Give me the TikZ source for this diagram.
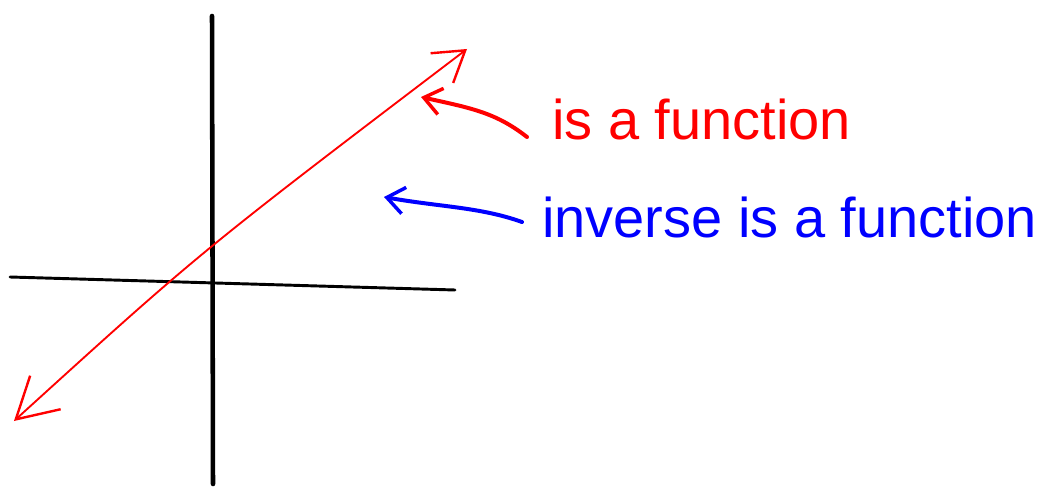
\documentclass[tikz,border=0pt]{standalone}
\usepackage{fontspec}
\setmainfont{Liberation Sans}
\usetikzlibrary{arrows.meta}
\definecolor{cRed}{RGB}{255,0,0}
\definecolor{cBlue}{RGB}{0,0,255}
\tikzset{
  axisline/.style ={draw=black,line cap=round},
  graphline/.style={draw=cRed,line width=1.4pt,line cap=round,
                    {Straight Barb[length=30pt,width=34pt,line width=1.8pt]}-{Straight Barb[length=22pt,width=28pt,line width=1.8pt]}},
  note/.style     ={font=\fontsize{42}{50}\selectfont,inner sep=0pt,anchor=base west},
  ptr/.style      ={line width=3pt,line cap=round,
                    -{Straight Barb[length=13pt,width=20pt,line width=2.6pt]}},
}
\begin{document}
\begin{tikzpicture}[x=0.75pt,y=-0.75pt]
\useasboundingbox (0,0) rectangle (1046,488);

% ---- axes ----------------------------------------------------------------
\coordinate (ytop) at (212,16);
\coordinate (ybot) at (213,484);
\coordinate (xl)   at (10,277);
\coordinate (xr)   at (455,290);
\draw[axisline,line width=3.4pt] (ytop) -- (ybot);
\draw[axisline,line width=2.2pt] (xl) -- (xr);

% ---- the graph -----------------------------------------------------------
\coordinate (gll) at (14,421);
\coordinate (gur) at (467,49);
\draw[graphline] (gll) .. controls (200,252) .. (gur);

% ---- notes ---------------------------------------------------------------
\node[note,text=cRed]  (isf)  at (552,140) {is a function};
\node[note,text=cBlue] (invf) at (542,238) {inverse is a function};

\coordinate (isfstart)  at (527,137);
\coordinate (isftip)    at (421,97);
\coordinate (invstart)  at (522,222);
\coordinate (invtip)    at (384,197);
\draw[ptr,cRed]  (isfstart) .. controls (495,112) and (470,108) .. (isftip);
\draw[ptr,cBlue] (invstart) .. controls (480,207) and (440,207) .. (invtip);
\end{tikzpicture}
\end{document}
